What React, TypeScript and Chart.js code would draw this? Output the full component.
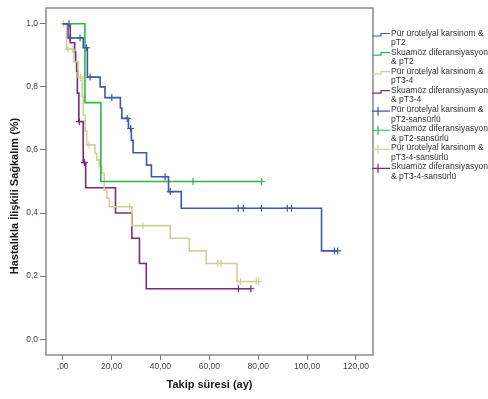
import React, { useEffect, useRef } from 'react';
import { Chart, registerables } from 'chart.js';

Chart.register(...registerables);

// ---- data ----
const xTickValues = [0, 20, 40, 60, 80, 100, 120];
const yTickValues = [0, 0.2, 0.4, 0.6, 0.8, 1.0];
const xTitle = 'Takip süresi (ay)';
const yTitle = 'Hastalıkla İlişkili Sağkalım (%)';

const legendLabels: string[][] = [
  ['Pür ürotelyal karsinom &', 'pT2'],
  ['Skuamöz diferansiyasyon', '& pT2'],
  ['Pür ürotelyal karsinom &', 'pT3-4'],
  ['Skuamöz diferansiyasyon', '& pT3-4'],
  ['Pür ürotelyal karsinom &', 'pT2-sansürlü'],
  ['Skuamöz diferansiyasyon', '& pT2-sansürlü'],
  ['Pür ürotelyal karsinom &', 'pT3-4-sansürlü'],
  ['Skuamöz diferansiyasyon', '& pT3-4-sansürlü'],
];

// group 1: Pür ürotelyal karsinom & pT2
const g1Times = [2.2, 8.4, 10.1, 15.3, 17.3, 23.6, 24.2, 26.9, 28.1, 28.8, 34.3, 36.3, 43.3, 48.5, 105.9];
const g1Surv = [0.955, 0.924, 0.831, 0.80, 0.766, 0.733, 0.70, 0.668, 0.631, 0.591, 0.552, 0.515, 0.468, 0.415, 0.28];
const g1Cens = [3.0, 7.1, 9.8, 11.2, 20.1, 26.4, 27.8, 41.9, 44.0, 71.8, 73.9, 81.3, 91.9, 93.6, 111.2, 112.5];

// group 2: Skuamöz diferansiyasyon & pT2
const g2Times = [9.1, 15.6];
const g2Surv = [0.75, 0.50];
const g2Cens = [53.3, 81.4];

// group 3: Pür ürotelyal karsinom & pT3-4
const g3Times = [1.6, 4.6, 6.3, 8.0, 8.4, 9.2, 9.8, 13.2, 13.9, 15.0, 16.0, 17.0, 18.0, 19.1, 28.3, 44.0, 51.8, 58.7, 71.3];
const g3Surv = [0.92, 0.88, 0.83, 0.77, 0.71, 0.66, 0.616, 0.589, 0.568, 0.547, 0.526, 0.473, 0.447, 0.42, 0.36, 0.32, 0.28, 0.24, 0.183];
const g3Cens = [0.3, 2.2, 4.1, 7.3, 10.8, 27.4, 32.8, 63.5, 64.8, 72.7, 79.2, 80.2];

// group 4: Skuamöz diferansiyasyon & pT3-4
const g4Times = [3.1, 4.9, 5.3, 5.7, 6.0, 6.6, 8.4, 9.4, 21.6, 28.3, 31.4, 34.2];
const g4Surv = [0.94, 0.91, 0.88, 0.85, 0.78, 0.69, 0.56, 0.48, 0.40, 0.32, 0.24, 0.16];
const g4Cens = [2.6, 6.8, 8.9, 71.9, 77.0];

const colors = ['#3E58AC', '#2EB848', '#D3CE97', '#7C287D'];

// ---- helpers ----
function survAt(times: number[], surv: number[], t: number) {
  let s = 1;
  for (let i = 0; i < times.length; i++) if (times[i] <= t) s = surv[i];
  return s;
}
function stepLine(times: number[], surv: number[], cens: number[]) {
  const pts = [{ x: 0, y: 1 }];
  times.forEach((t, i) => pts.push({ x: t, y: surv[i] }));
  const end = Math.max(...cens, ...times);
  pts.push({ x: end, y: survAt(times, surv, end) });
  return pts;
}
function censPoints(times: number[], surv: number[], cens: number[]) {
  return cens.map((t) => ({ x: t, y: survAt(times, surv, t) }));
}

const groups = [
  [g1Times, g1Surv, g1Cens],
  [g2Times, g2Surv, g2Cens],
  [g3Times, g3Surv, g3Cens],
  [g4Times, g4Surv, g4Cens],
];

const FONT = '"Liberation Sans", Arial, sans-serif';

const decorPlugin = {
  id: 'decor',
  beforeDatasetsDraw(chart: any) {
    const { ctx, chartArea: a } = chart;
    ctx.save();
    ctx.strokeStyle = '#8a8a8a';
    ctx.lineWidth = 1.5;
    ctx.strokeRect(a.left, a.top, a.right - a.left, a.bottom - a.top);
    ctx.restore();
  },
  afterDraw(chart: any) {
    const { ctx, chartArea: a } = chart;
    ctx.save();
    ctx.fillStyle = '#1a1a1a';
    ctx.font = 'bold 11px ' + FONT;
    ctx.textAlign = 'center';
    ctx.textBaseline = 'middle';
    ctx.fillText(xTitle, (a.left + a.right) / 2, 385);
    ctx.save();
    ctx.translate(15, 196);
    ctx.rotate(-Math.PI / 2);
    ctx.fillText(yTitle, 0, 0);
    ctx.restore();

    // legend
    ctx.font = '8.5px ' + FONT;
    ctx.textAlign = 'left';
    ctx.fillStyle = '#333';
    legendLabels.forEach((lines, i) => {
      const y = 33.5 + 19.05 * i;
      const col = colors[i % 4];
      ctx.strokeStyle = col;
      ctx.lineWidth = 1.2;
      ctx.beginPath();
      if (i < 4) {
        ctx.moveTo(372, y + 2.5);
        ctx.lineTo(381, y + 2.5);
        ctx.lineTo(381, y);
        ctx.lineTo(390, y);
      } else {
        ctx.moveTo(372, y + 1.5);
        ctx.lineTo(390, y + 1.5);
        ctx.moveTo(378, y - 3);
        ctx.lineTo(378, y + 6);
      }
      ctx.stroke();
      ctx.fillText(lines[0], 391, y);
      ctx.fillText(lines[1], 391, y + 9.5);
    });
    ctx.restore();
  },
};

export default function App() {
  const ref = useRef<HTMLCanvasElement | null>(null);
  useEffect(() => {
    if (!ref.current) return;
    const datasets: any[] = [];
    groups.forEach(([t, s, c], i) => {
      datasets.push({
        type: 'line',
        data: stepLine(t, s, c),
        borderColor: colors[i],
        borderWidth: 1.6,
        stepped: 'before',
        pointRadius: 0,
        fill: false,
      });
    });
    groups.forEach(([t, s, c], i) => {
      datasets.push({
        type: 'scatter',
        data: censPoints(t, s, c),
        borderColor: colors[i],
        backgroundColor: colors[i],
        pointStyle: 'cross',
        pointRadius: 3.5,
        pointBorderWidth: 1.2,
        showLine: false,
      });
    });
    const chart = new Chart(ref.current, {
      type: 'scatter',
      data: { datasets },
      options: {
        animation: false,
        responsive: false,
        devicePixelRatio: 1,
        layout: { padding: { left: 0, top: 8, right: 115, bottom: 0 } },
        plugins: { legend: { display: false }, tooltip: { enabled: false } },
        scales: {
          x: {
            type: 'linear',
            min: -6.83,
            max: 126.96,
            afterFit: (s: any) => { s.height = 44; },
            afterBuildTicks: (s: any) => { s.ticks = xTickValues.map((v) => ({ value: v })); },
            grid: { drawOnChartArea: false, drawTicks: true, tickLength: 5, color: '#777' },
            border: { display: false },
            ticks: {
              padding: 2,
              color: '#444',
              font: { family: FONT, size: 8.5 },
              maxRotation: 0,
              callback: (v: any) => (v === 0 ? ',00' : Number(v).toFixed(2).replace('.', ',')),
            },
          },
          y: {
            type: 'linear',
            min: -0.05,
            max: 1.05,
            afterFit: (s: any) => { s.width = 46; },
            afterBuildTicks: (s: any) => { s.ticks = yTickValues.map((v) => ({ value: v })); },
            grid: { drawOnChartArea: false, drawTicks: true, tickLength: 6, color: '#777' },
            border: { display: false },
            ticks: {
              padding: 2,
              color: '#444',
              font: { family: FONT, size: 8.5 },
              callback: (v: any) => Number(v).toFixed(1).replace('.', ','),
            },
          },
        },
      },
      plugins: [decorPlugin],
    });
    return () => chart.destroy();
  }, []);
  return (
    <div style={{ position: 'absolute', left: 0, top: 0, width: 488, height: 399, background: '#fff' }}>
      <canvas ref={ref} width={488} height={399} style={{ display: 'block', width: 488, height: 399 }} />
    </div>
  );
}
